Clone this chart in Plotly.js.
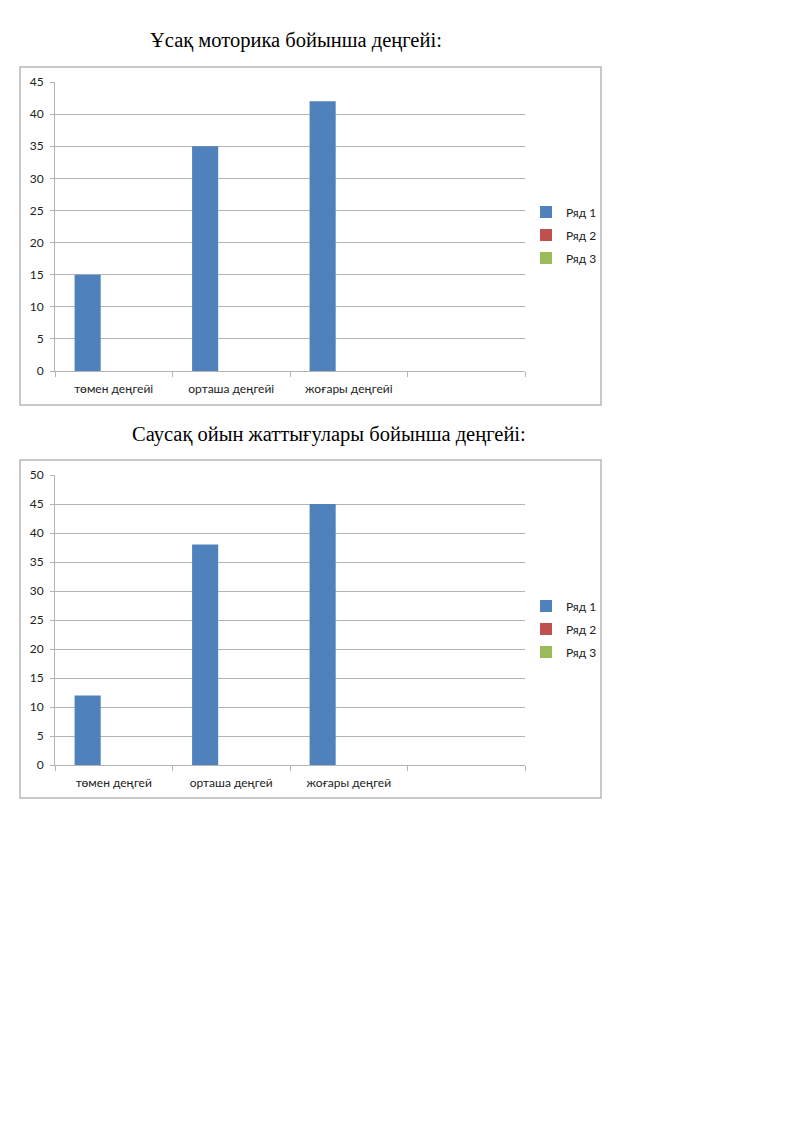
<!DOCTYPE html>
<html>
<head>
<meta charset="utf-8">
<script src="https://cdn.plot.ly/plotly-3.0.1.min.js"></script>
<style>
  body { margin: 0; background: #fff; }
  #page { width: 800px; height: 1131px; }
</style>
</head>
<body>
<div id="page"></div>
<script>
// chart data
const title1 = 'Ұсақ моторика бойынша деңгейі:';
const title2 = 'Саусақ ойын жаттығулары бойынша деңгейі:';
const categories1 = ['төмен деңгейі', 'орташа деңгейі', 'жоғары деңгейі', ' '];
const categories2 = ['төмен деңгей', 'орташа деңгей', 'жоғары деңгей', ' '];
const seriesNames = ['Ряд 1', 'Ряд 2', 'Ряд 3'];
const seriesColors = ['#4F81BD', '#C0504D', '#9BBB59'];
const chart1Values = [
    [15, 35, 42, null],
    [null, null, null, null],
    [null, null, null, null]
];
const chart2Values = [
    [12, 38, 45, null],
    [null, null, null, null],
    [null, null, null, null]
];

const W = 800, H = 1131;
const px = (x) => x / W;
const py = (y) => 1 - y / H;

const tickFont = {family: 'Lato, "Open Sans", sans-serif', size: 12, color: '#222'};
const gridColor = '#b4b4b4';

let traces = [];
seriesNames.forEach((name, i) => {
    traces.push({
        type: 'bar', name: name, x: categories1, y: chart1Values[i],
        marker: {color: seriesColors[i]}, xaxis: 'x', yaxis: 'y',
        legend: 'legend', legendgroup: 'a' + i, hoverinfo: 'none'
    });
});
seriesNames.forEach((name, i) => {
    traces.push({
        type: 'bar', name: name, x: categories2, y: chart2Values[i],
        marker: {color: seriesColors[i]}, xaxis: 'x2', yaxis: 'y2',
        legend: 'legend2', legendgroup: 'b' + i, hoverinfo: 'none'
    });
});

function xAxis(domain, anchor) {
    return {
        domain: domain, anchor: anchor, type: 'category',
        tickson: 'boundaries', ticks: 'outside', ticklen: 5, tickcolor: gridColor,
        ticklabelstandoff: 7,
        showline: true, linecolor: gridColor, linewidth: 1,
        showgrid: false, tickfont: tickFont, fixedrange: true
    };
}
function yAxis(domain, anchor, max) {
    return {
        domain: domain, anchor: anchor, range: [0, max], dtick: 5,
        ticks: 'outside', ticklen: 4, tickcolor: gridColor,
        ticklabelstandoff: 4,
        showline: true, linecolor: gridColor, linewidth: 1,
        gridcolor: gridColor, gridwidth: 1, zeroline: false,
        tickfont: tickFont, fixedrange: true
    };
}
function legendAt(y) {
    return {
        x: px(526), xanchor: 'left', y: py(y), yanchor: 'middle',
        font: tickFont, tracegroupgap: 4, bgcolor: 'rgba(0,0,0,0)'
    };
}
function box(y0, y1) {
    return {
        type: 'rect', xref: 'paper', yref: 'paper',
        x0: px(20), x1: px(601), y0: py(y1), y1: py(y0),
        line: {color: '#b8b8b8', width: 1.5}
    };
}
function heading(text, x, y) {
    return {
        text: text, xref: 'paper', yref: 'paper', x: px(x), y: py(y),
        xanchor: 'center', yanchor: 'middle', showarrow: false,
        font: {family: '"Liberation Serif", "DejaVu Serif", serif', size: 20.5, color: '#000'}
    };
}

const layout = {
    width: W, height: H,
    margin: {l: 0, r: 0, t: 0, b: 0},
    paper_bgcolor: '#fff', plot_bgcolor: '#fff',
    barmode: 'group', bargap: 1 / 3, bargroupgap: 0,
    xaxis: xAxis([px(55), px(525)], 'y'),
    yaxis: yAxis([py(371), py(82)], 'x', 45),
    xaxis2: xAxis([px(55), px(525)], 'y2'),
    yaxis2: yAxis([py(765), py(475)], 'x2', 50),
    legend: legendAt(235),
    legend2: legendAt(629),
    shapes: [box(67, 405), box(460, 798)],
    annotations: [heading(title1, 296, 41), heading(title2, 329, 434)]
};

Plotly.newPlot('page', traces, layout, {displayModeBar: false, staticPlot: true});
</script>
</body>
</html>
